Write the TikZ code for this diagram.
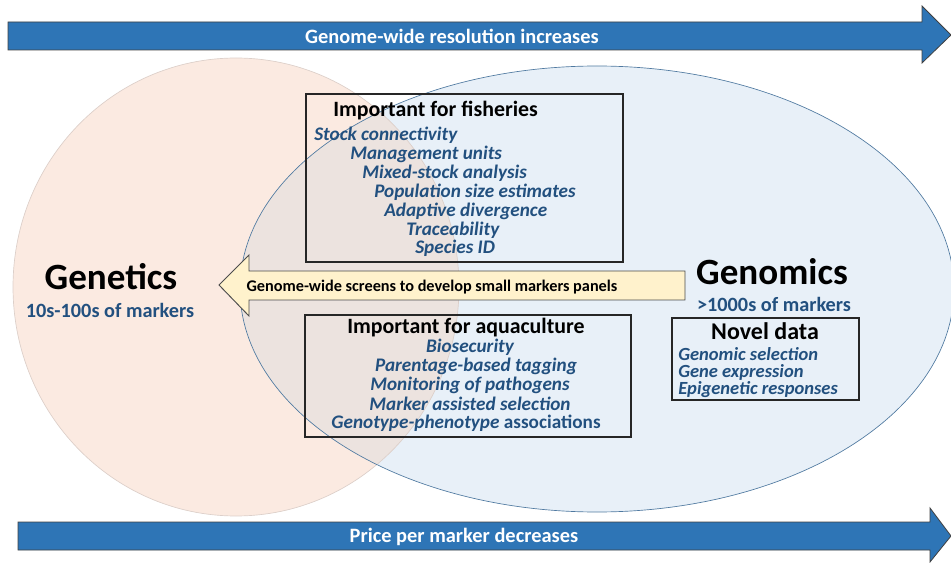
\documentclass[tikz,border=0pt]{standalone}
\usepackage{fontspec}
\setmainfont{Carlito}
\usetikzlibrary{positioning}

\definecolor{barblue}{HTML}{2E75B6}
\definecolor{inkblue}{HTML}{22507F}
\definecolor{peach}{HTML}{FBEAE1}
\definecolor{paleblue}{HTML}{E8F0F8}
\definecolor{mixed}{HTML}{ECE3DF}
\definecolor{paleyellow}{HTML}{FFF2CC}

\tikzset{
	bar/.style={fill=barblue,draw=black!75,line width=0.6pt},
	bartext/.style={text=white,font=\bfseries\fontsize{15.3}{17}\selectfont},
	infobox/.style={draw=black!85,line width=0.9pt,inner sep=0pt},
	boxtitle/.style={font=\bfseries\fontsize{16.4}{18}\selectfont,inner sep=0pt},
	item/.style={text=inkblue,font=\bfseries\itshape\fontsize{14.4}{16}\selectfont,inner sep=0pt},
	smallitem/.style={item,font=\bfseries\itshape\fontsize{13.9}{15}\selectfont},
	field/.style={font=\bfseries\fontsize{27.8}{30}\selectfont,inner sep=0pt},
	count/.style={text=inkblue,font=\bfseries\fontsize{15.2}{17}\selectfont,inner sep=0pt}
}

\begin{document}
\begin{tikzpicture}[x=0.75pt,y=-0.75pt]
	\useasboundingbox (0,0) rectangle (951,563);
	% two fields
	\fill[peach] (236,287) ellipse [x radius=223,y radius=229];
	\fill[paleblue] (597,289) ellipse [x radius=357,y radius=223];
	\begin{scope}
		\clip (236,287) ellipse [x radius=223,y radius=229];
		\fill[mixed] (597,289) ellipse [x radius=357,y radius=223];
	\end{scope}
	\draw[draw=peach!75!gray,line width=0.5pt] (236,287) ellipse [x radius=223,y radius=229];
	\draw[draw=barblue!60!gray,line width=0.5pt] (597,289) ellipse [x radius=357,y radius=223];

	% top and bottom bars
	\draw[bar] (8,22) -- (922,22) -- (922,6) -- (951,35) -- (922,63) -- (922,50) -- (8,50) -- cycle;
	\node[bartext] (resolution) at (452,36) {Genome-wide resolution increases};
	\draw[bar] (18,522) -- (930,522) -- (930,508) -- (951,536) -- (930,562) -- (930,550) -- (18,550) -- cycle;
	\node[bartext] (price) at (464,537) {Price per marker decreases};

	% back arrow
	\draw[fill=paleyellow,draw=black!70,line width=0.7pt] (685,271) -- (249,271) -- (249,255) -- (219,285) -- (249,316) -- (249,300) -- (685,300) -- cycle;
	\node[font=\bfseries\fontsize{12.2}{14}\selectfont,inner sep=0pt] (screens) at (432,287) {Genome-wide screens to develop small markers panels};

	% genetics side
	\node[field] (genetics) at (111,277) {Genetics};
	\node[count] (gencount) at (110,310) {10s-100s of markers};

	% genomics side
	\node[field] (genomics) at (772,272) {Genomics};
	\node[count] (gomcount) at (774,304) {>1000s of markers};

	% fisheries
	\node[infobox,minimum width=237.75pt,minimum height=126pt] (fishbox) at (464.5,178) {};
	\node[boxtitle,anchor=west] (fishtitle) at (333,111) {Important for fisheries};
	\node[item,anchor=west] (stock) at (314,135) {Stock connectivity};
	\node[item,anchor=west] (units) at (350,154) {Management units};
	\node[item,anchor=west] (mixedstock) at (362,173) {Mixed-stock analysis};
	\node[item,anchor=west] (popsize) at (374,192) {Population size estimates};
	\node[item,anchor=west] (adaptive) at (384,211) {Adaptive divergence};
	\node[item,anchor=west] (trace) at (406,230) {Traceability};
	\node[item,anchor=west] (species) at (415,248) {Species ID};

	% aquaculture
	\node[infobox,minimum width=244.5pt,minimum height=91.5pt] (aquabox) at (468,376) {};
	\node[boxtitle] (aquatitle) at (466,328) {Important for aquaculture};
	\node[item] (biosec) at (470,347) {Biosecurity};
	\node[item] (parentage) at (476,366) {Parentage-based tagging};
	\node[item] (pathogens) at (470,385) {Monitoring of pathogens};
	\node[item] (mas) at (470,404) {Marker assisted selection};
	\node[item] (genopheno) at (466,423) {Genotype-phenotype \upshape associations};

	% novel data
	\node[infobox,minimum width=140.25pt,minimum height=61.5pt] (novelbox) at (765.5,359) {};
	\node[boxtitle,font=\bfseries\fontsize{18}{20}\selectfont] (noveltitle) at (765,331) {Novel data};
	\node[smallitem,anchor=west] (gensel) at (678,354) {Genomic selection};
	\node[smallitem,anchor=west] (geneexp) at (678,372) {Gene expression};
	\node[smallitem,anchor=west] (epigen) at (678,390) {Epigenetic responses};
\end{tikzpicture}
\end{document}
